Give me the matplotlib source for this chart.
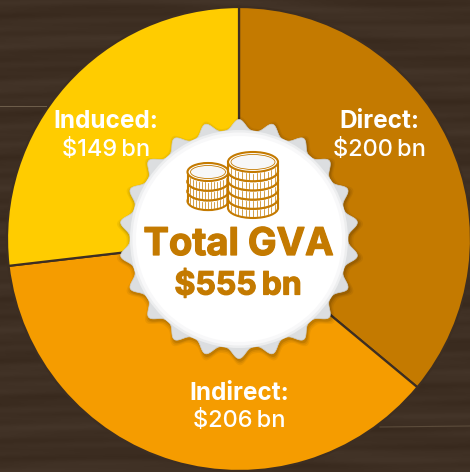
import numpy as np
import matplotlib
matplotlib.use('Agg')
import matplotlib.pyplot as plt
import matplotlib.patheffects as pe
from matplotlib.patches import Circle, Ellipse, Polygon, Rectangle

# values in $bn, clockwise from the top
categories = ['Direct', 'Indirect', 'Induced']
values = [200, 206, 149]
colors = ['#C47A00', '#F59C00', '#FFCC00']
total_label = 'Total GVA'
total_value = '$555\u2009bn'

W, H = 470, 472
GOLD = '#C47A00'
FONT = ['Inter', 'DejaVu Sans']


def flip(y):
    # picture coords have y going down
    return H - y


def draw_wood(ax):
    # soft streaky planks, made from a few sines
    yy, xx = np.mgrid[0:H, 0:W]
    tex = (np.sin(yy * 0.31 + np.sin(xx * 0.012) * 2.0) * 0.4
           + np.sin(yy * 0.13 + np.sin(xx * 0.007 + 1) * 3.0) * 0.4
           + np.sin(yy * 0.71 + xx * 0.004) * 0.2)
    base = np.array([62, 47, 35]) / 255
    img = np.clip(base[None, None, :] + tex[:, :, None] * 0.022, 0, 1)
    ax.imshow(img, extent=(0, W, 0, H), origin='upper', zorder=0, aspect='auto')
    ax.plot([0, 46], [flip(106), flip(106)], color='#6f5f4c', lw=0.7, zorder=1)
    ax.plot([380, 470], [flip(427), flip(426)], color='#5c4c3b', lw=0.8, zorder=1)


def draw_cap(ax, cx, cy):
    # scalloped bottle cap outline with rounded teeth
    t = np.linspace(0, 2 * np.pi, 1500)
    teeth = 22
    r = 109 + 10.5 * (0.5 + 0.5 * np.cos(teeth * t)) ** 1.6
    px = np.sin(t) * r
    py = np.cos(t) * r
    for grow, alpha in [(1.04, 0.05), (1.025, 0.07), (1.01, 0.10)]:
        ax.add_patch(Polygon(np.c_[cx + px * grow + 1, cy + py * grow - 2], closed=True, fc='#000000',
                             alpha=alpha, ec='none', zorder=5))
    ax.add_patch(Polygon(np.c_[cx + px, cy + py], closed=True, fc='#DCDEE0', ec='#CFD1D3',
                         lw=0.5, zorder=6))
    ax.add_patch(Circle((cx, cy), 109, fc='#EDEEEF', ec='none', zorder=7))
    ax.add_patch(Circle((cx, cy), 106.5, fc='#F8F8F9', ec='none', zorder=8))
    ax.add_patch(Circle((cx, cy), 103, fc='white', ec='none', zorder=9))


def draw_stack(ax, cx, top, n, w, h, step, z):
    # coins from the bottom of the stack up to the top one
    for i in range(n - 1, -1, -1):
        y = top - i * step
        zz = z + (n - i) * 0.01
        ax.add_patch(Ellipse((cx, y - step), w, h, fc='white', ec=GOLD, lw=1.5, zorder=zz))
        ax.add_patch(Rectangle((cx - w / 2, y - step), w, step, fc='white', ec='none', zorder=zz))
        ax.plot([cx - w / 2, cx - w / 2], [y, y - step], color=GOLD, lw=1.5, zorder=zz)
        ax.plot([cx + w / 2, cx + w / 2], [y, y - step], color=GOLD, lw=1.5, zorder=zz)
        for tick in np.linspace(-0.44, 0.44, 13):
            tx = cx + tick * w
            dy = h / 2 * np.sqrt(max(1 - (2 * tick) ** 2, 0))
            ax.plot([tx, tx], [y - dy - 1.5, y - step - dy + 1.5], color=GOLD, lw=0.5, zorder=zz)
        ax.add_patch(Ellipse((cx, y), w, h, fc='white', ec=GOLD, lw=1.5, zorder=zz + 0.001))
    ax.add_patch(Ellipse((cx, top), w - 6, h - 5, fc='#F7F7F7', ec=GOLD, lw=0.6, zorder=z + 1))


fig = plt.figure(figsize=(W / 100, H / 100), dpi=100)
ax = fig.add_axes([0, 0, 1, 1])

draw_wood(ax)

wedges, _ = ax.pie(values, colors=colors, startangle=90, counterclock=False,
                   center=(239, flip(239)), radius=232,
                   wedgeprops=dict(edgecolor='#3D2E22', linewidth=1.6))
for w in wedges:
    w.set_zorder(3)

draw_cap(ax, 239, flip(239))
draw_stack(ax, 208, flip(172), 3, 41, 18, 9.7, 10)
draw_stack(ax, 253, flip(162), 5, 50, 20, 9.2, 11)

# heavier than the bold weight on its own
heavy = [pe.withStroke(linewidth=0.9, foreground=GOLD)]
ax.text(238.5, flip(245), total_label, color=GOLD, fontsize=27.5, fontweight='bold', family=FONT,
        ha='center', va='center', zorder=15, path_effects=heavy)
ax.text(238, flip(286), total_value, color=GOLD, fontsize=23, fontweight='bold', family=FONT,
        ha='center', va='center', zorder=15, path_effects=heavy)

# slice labels
label_pos = [(379, 122, 150), (239, 393, 421), (106, 122, 150)]
for cat, val, (lx, y1, y2) in zip(categories, values, label_pos):
    ax.text(lx, flip(y1), cat + ':', color='white', fontsize=17.5, fontweight='bold', family=FONT,
            ha='center', va='center', zorder=4)
    ax.text(lx, flip(y2), f'${val}\u2009bn', color='white', fontsize=17, fontweight='medium', family=FONT,
            ha='center', va='center', zorder=4)

ax.set_xlim(0, W)
ax.set_ylim(0, H)
ax.set_aspect('auto')
ax.axis('off')

fig.savefig('out.png', dpi=100)
